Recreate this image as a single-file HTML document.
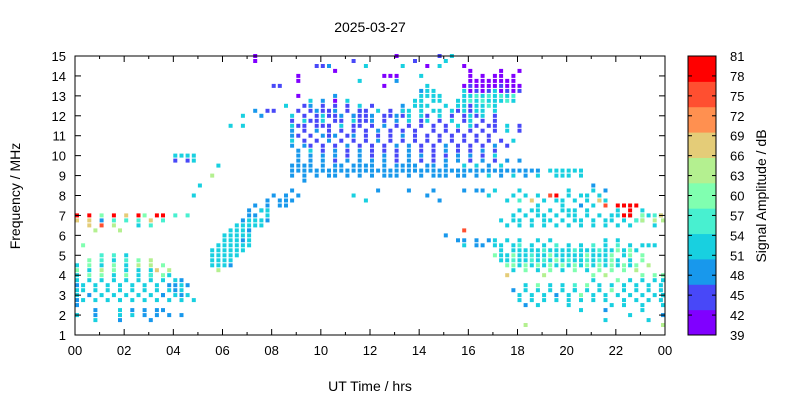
<!DOCTYPE html>
<html><head><meta charset="utf-8"><style>
body{margin:0;background:#fff;}
svg text{font-family:"Liberation Sans",sans-serif;fill:#000;}
</style></head><body>
<svg id="chart" width="800" height="400" xmlns="http://www.w3.org/2000/svg">
<rect width="800" height="400" fill="#fff"/>
<text x="370" y="32" font-size="14" text-anchor="middle">2025-03-27</text>
<text x="370" y="391" font-size="14" text-anchor="middle">UT Time / hrs</text>
<text transform="translate(20,196) rotate(-90)" font-size="14" text-anchor="middle">Frequency / MHz</text>
<text transform="translate(766,196) rotate(-90)" font-size="14" text-anchor="middle">Signal Amplitude / dB</text>
<g id="marks"></g>
<g id="axes"></g>
<g id="cbar"></g>
</svg>
<script>
const xTickLabels=["00","02","04","06","08","10","12","14","16","18","20","22","00"];
const yTickLabels=[1,2,3,4,5,6,7,8,9,10,11,12,13,14,15];
const cbarTickLabels=[39,42,45,48,51,54,57,60,63,66,69,72,75,78,81];
const bandColors=["#8000ff","#4848f8","#1898ec","#18d0e0","#48f0d0","#80ffb0","#b4f090","#e4cc78","#ff9050","#ff4f30","#ff0000"];
const rowFreqs=[15,14.75,14.5,14.25,14,13.75,13.5,13.25,13,12.75,12.5,12.25,12,11.75,11.5,11.25,11,10.75,10.5,10.25,10,9.75,9.5,9.25,9,8.75,8.5,8.25,8,7.75,7.5,7.25,7,6.75,6.5,6.25,6,5.75,5.5,5.25,5,4.75,4.5,4.25,4,3.75,3.5,3.25,3,2.75,2.5,2.25,2,1.75,1.5];
const rowCells=[
"29:0 52:0 59:1 61:3",
"29:0 45:1 55:1 60:3",
"39:112 47:3 53:3 57:0.3 63:0",
"42:0 64:0 69:0 72:0",
"36:0 50:000 56:3 64:0.0.00.0",
"36:0 46:3 52:2 64:00000000",
"32:11 50:0 57:3 63:0100001000",
"56:233 63:3010130101",
"36:0 42:2 56:3333 63:334343434",
"38:3.2 42:0.3 55:33.33 62:3343433343",
"34:3 37:12.1 42:1.1 46:3.1 53:2.333 60:3.3313343",
"29:2 31:11 36:1.12 40:112.1.2 46:11.3.1.1 53:33.3.3 59:3.313133.3",
"27:3 30:2 35:3.1.13112.1.1 45:21.2.11.1 52:2.3.3 57:1.3.1.1313.1",
"35:1.3113.11.311 48:2.1.2.3.1 57:3.1.3.13.1.1",
"25:3.3 35:311.111.3.11.1.2.1.1 56:1.1.1.3.31.11.3.1",
"35:2.1.2.1.1.1.1.2.1.1.1 57:.1.1.1.1.1.1.3.1",
"35:21.1.212.12.1.1.1.2.1.1.1.1.1.1.1",
"35:3.1.1.2.1.1.1.2.1.1.1.1.1.1.1.1.1.1.3",
"35:2.21.1.1.2.1.1.1.2.2.1.1.2.1.1.1.2.1",
"36:2.3.1.2.1.2.1.1.1.2.1.1.2.1.1.2.1",
"16:3333 36:2.2.2.2.1.2.1.2.1.2.2.1.1.2.2.1.3",
"16:1.13 36:2.2.2.1.2.2.2.2.1.2.1.1.2.2.1.2.1.2.2",
"23:3 35:2222.2.22.2222.2.2222.22.2 63:3.3.2.3",
"35:22222222222222222222222222222222222222222 77:333333",
"22:6 35:2.2.2.22.2.2.2.222.2.2.222.22.2.3.2.3.2.3 78:333.3",
"37:2",
"20:3 84:2",
"35:2 49:2 54:2 58:2 63:2.22.3 72:3 80:3 84:3 86:2",
"19:3 32:2.2 36:2 45:3 57:2 67:3 71:3.3.3.9A.3.33 83:3.3",
"31:2.22 35:2 47:3 59:2 70:3.4.7.3.33.3.3.3 85:73",
"29:2.2.22 75:3 79:3 82:2.3.9.A.AA 89:A",
"28:2.22 30:33 72:3.33.3.333.3 88:3.A.3",
"0:A.A.5.A.7.A5.AA.4.4 28:22.3 71:3.3.33.3.33.3.3.33.3.33.3 89:AA.5.4 95:7",
"0:7.7.2.4.4.4.7.4 27:23332 69:3.33.3.33.3.33.3.33.3.33 91:46.6.6",
"2:7.9.6 10:3.4 26:33333 70:3.3.3.3.3.3.3.3.3.3.3 94:3",
"3:6 7:6 25:3333 28:2 63:9",
"24:33333 60:2",
"24:33323 62:22.2.23.3.3 75:3.3 86:3.3",
"1:5 23:333333 63:3.22.33.34.3.3.4.3.3.4.3.4.3.3.3 93:3",
"22:333333 69:3.333334333343334335353",
"4:4.4.3 22:33333 68:53353343353333353335.35.5",
"2:5.4.3.4.5.6 22:3333 69:33433434353433434353.3.5",
"0:3.5.3.5.3.6.6.5 22:3332 70:5535353535353535353535.6",
"0:5.3.6.5.3.3.37.6 23:6 71:3.5.3.5.3.5.3.5.5.5.6",
"0:3.5.5.3.5.3.3.53 12:4 70:7 76:6 84:5.6 92:5.5.5",
"0:3.3.3.3.3.3.3.3.3 17:2 84:3 88:5.3 92:3.3.3",
"0:23.3.3.3.3.3.3.2.3 16:2.2 73:3.5.3 79:3.4.5 85:3.3.3.3.3.3",
"0:33.3.3.3.3.3.3.3.3 16:2 71:2.3.3.3.5.3 79:3.3.3.3.5.3.3.3.3",
"0:3.2.3.3.3.3.3.3.3.3 14:2 17:2 72:3.3.3.2.3.5.3.3.3.3.3.3.3.3.3",
"0:23.3.3.3.3.3.3.3.3.3 72:3.3.3.3.3.3.3.3 89:3.3.3.3",
"0:2 73:2 75:3 80:3 87:3.3 92:3 96:3",
"3:2 7:3.2.2.2 14:2 82:3 86:2 92:3",
"0:3 3:2 7:3.3.2.2.2.2 90:3 96:2",
"3:3 7:2 12:2 86:3 93:3",
"73:6 96:6"
];
const X0=75,X1=665,Y0=56,Y1=335;
function xScale(h){return X0+(h/24)*(X1-X0);}
function yScale(f){return Y1-(f-1)/14*(Y1-Y0);}
function cScale(v){return Y1-(v-39)/42*(Y1-Y0);}
const NS="http://www.w3.org/2000/svg";
function mk(tag,attrs,parent){const e=document.createElementNS(NS,tag);for(const k in attrs)e.setAttribute(k,attrs[k]);parent.appendChild(e);return e;}
const marks=document.getElementById('marks');
rowCells.forEach((row,ri)=>{
  const f=rowFreqs[ri];
  row.trim().split(/\s+/).forEach(seg=>{
    const p=seg.split(':');const start=parseInt(p[0]);const codes=p[1];
    for(let i=0;i<codes.length;i++){
      const ch=codes[i];if(ch==='.')continue;
      const lvl=parseInt(ch,16);
      const h=(start+i)*0.25;
      const x=Math.min(xScale(h),X1-4);
      const r=mk('rect',{x:x.toFixed(1),y:(yScale(f)-2).toFixed(1),width:4,height:4,fill:bandColors[lvl]},marks);
      
      
    }
  });
});
const axes=document.getElementById('axes');
const frame=mk('rect',{x:X0,y:Y0,width:X1-X0,height:Y1-Y0,fill:'none',stroke:'#000','stroke-width':1},axes);


for(let h=0;h<=24;h++){
  const x=xScale(h);const L=h%2===0?6:3;
  mk('line',{x1:x,x2:x,y1:Y1,y2:Y1-L,stroke:'#000'},axes);
  mk('line',{x1:x,x2:x,y1:Y0,y2:Y0+L,stroke:'#000'},axes);
}
xTickLabels.forEach((t,i)=>{
  const e=mk('text',{x:xScale(i*2),y:Y1+20,'font-size':13,'text-anchor':'middle'},axes);e.textContent=t;
  
  
});
yTickLabels.forEach(v=>{
  const y=yScale(v);
  mk('line',{x1:X0,x2:X0+6,y1:y,y2:y,stroke:'#000'},axes);
  mk('line',{x1:X1,x2:X1-6,y1:y,y2:y,stroke:'#000'},axes);
  const e=mk('text',{x:X0-9,y:y+5,'font-size':13,'text-anchor':'end'},axes);e.textContent=v;
  
  
});
const cb=document.getElementById('cbar');
const CX=688,CW=28;
const bh=(Y1-Y0)/bandColors.length;
bandColors.forEach((c,i)=>{
  const r=mk('rect',{x:CX,y:Y1-(i+1)*bh,width:CW,height:bh+0.5,fill:c},cb);
  
  
});
const cf=mk('rect',{x:CX,y:Y0,width:CW,height:Y1-Y0,fill:'none',stroke:'#000'},cb);


cbarTickLabels.forEach(v=>{
  const y=cScale(v);
  mk('line',{x1:CX,x2:CX+4,y1:y,y2:y,stroke:'#000'},cb);
  mk('line',{x1:CX+CW,x2:CX+CW-4,y1:y,y2:y,stroke:'#000'},cb);
  const e=mk('text',{x:730,y:y+5,'font-size':13},cb);e.textContent=v;
  
  
});
</script>
</body></html>
